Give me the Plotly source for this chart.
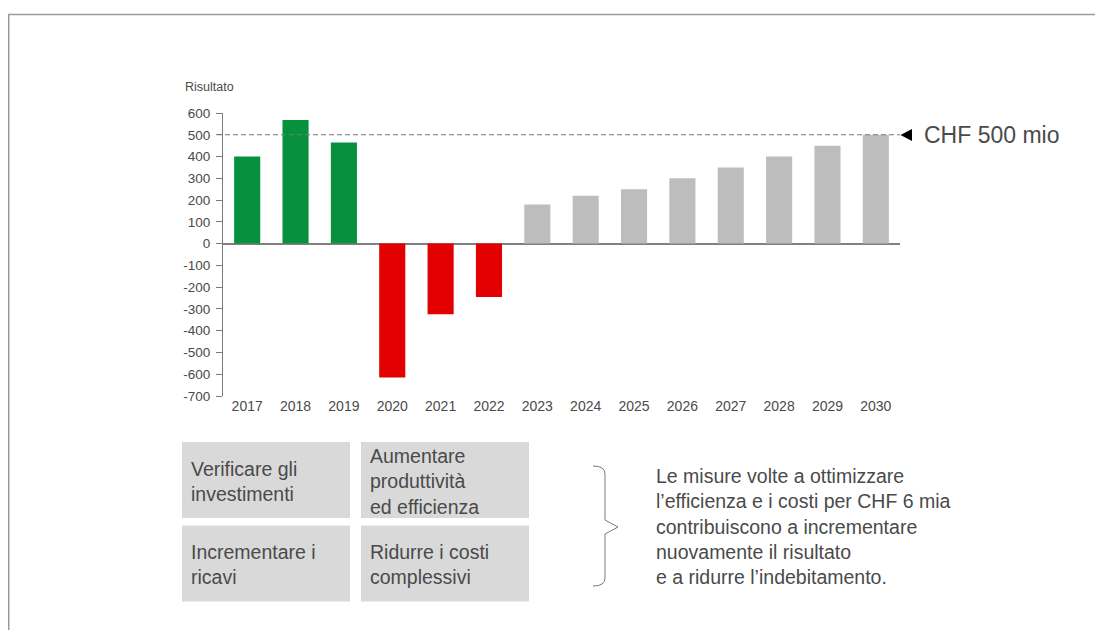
import plotly.graph_objects as go

# Risultato per anno (CHF mio)
years = ["2017", "2018", "2019", "2020", "2021", "2022", "2023",
         "2024", "2025", "2026", "2027", "2028", "2029", "2030"]
results = [400, 568, 465, -615, -325, -245, 180, 220, 250, 300, 350, 400, 450, 500]
period = ["actual"] * 6 + ["plan"] * 8

y_ticks = [600, 500, 400, 300, 200, 100, 0, -100, -200, -300, -400, -500, -600, -700]
y_ticktext = ["600", "500", "400", "300", "200", "100", "0",
              "-100", "-200", "-300", "-400", "-500", "-600", "-700"]

target = 500
target_label = "CHF 500 mio"
y_title = "Risultato"

box_texts = [
    "Verificare gli<br>investimenti",
    "Aumentare<br>produttività<br>ed efficienza",
    "Incrementare i<br>ricavi",
    "Ridurre i costi<br>complessivi",
]
summary_text = ("Le misure volte a ottimizzare<br>"
                "l’efficienza e i costi per CHF 6 mia<br>"
                "contribuiscono a incrementare<br>"
                "nuovamente il risultato<br>"
                "e a ridurre l’indebitamento.")

# the page body adds an 8px margin, so the figure is drawn 8px in
OFF = 8
W, H = 1103 - OFF, 630 - OFF
L, R, T, B = 215, 203, 105, 234
FONT = "Liberation Sans, Arial, sans-serif"
TXT = "#4a4a4a"


def px(x):
    # page pixel -> paper x
    return (x - OFF - L) / (W - L - R)


def py(y):
    # page pixel -> paper y
    return (H - B - (y - OFF)) / (H - T - B)


colors = []
for v, p in zip(results, period):
    if p == "plan":
        colors.append("#BDBDBD")
    elif v >= 0:
        colors.append("#07913F")
    else:
        colors.append("#E30000")

fig = go.Figure(go.Bar(
    x=years,
    y=results,
    marker=dict(color=colors, line=dict(width=0)),
    width=0.54,
    showlegend=False,
    hovertemplate="%{x}: %{y}<extra></extra>",
))

shapes = []
# target dashed line
shapes.append(dict(type="line", xref="paper", yref="y", x0=px(217), x1=1.0,
                   y0=target, y1=target,
                   line=dict(color="#7a7a7a", width=1.2, dash="5px,3px")))
# arrow head
ty = py(135)
shapes.append(dict(type="path", xref="paper", yref="paper",
                   path=f"M {px(900.5)},{ty} L {px(912)},{py(129)} L {px(912)},{py(141)} Z",
                   fillcolor="black", line=dict(width=0)))
# frame lines
shapes.append(dict(type="line", xref="paper", yref="paper",
                   x0=px(8), x1=px(1103), y0=py(14.5), y1=py(14.5),
                   line=dict(color="#9a9a9a", width=1.5)))
shapes.append(dict(type="line", xref="paper", yref="paper",
                   x0=px(8.7), x1=px(8.7), y0=py(14.5), y1=py(630),
                   line=dict(color="#9a9a9a", width=1.5)))

annotations = [
    dict(text=y_title, xref="paper", yref="paper", x=px(183), y=py(87),
         xanchor="left", yanchor="middle", showarrow=False,
         font=dict(family=FONT, size=12.5, color=TXT)),
    dict(text=target_label, xref="paper", yref="paper", x=px(922), y=py(135),
         xanchor="left", yanchor="middle", showarrow=False,
         font=dict(family=FONT, size=23, color=TXT)),
]

# boxes 2x2
col_x = [182, 361]
row_y = [442, 525.5]
bw, bh = 168, 76
for i, txt in enumerate(box_texts):
    x0 = col_x[i % 2]
    y0 = row_y[i // 2]
    shapes.append(dict(type="rect", xref="paper", yref="paper",
                       x0=px(x0), x1=px(x0 + bw), y0=py(y0), y1=py(y0 + bh),
                       fillcolor="#D9D9D9", line=dict(width=0), layer="below"))
    annotations.append(dict(text=txt, xref="paper", yref="paper",
                            x=px(x0 + 7), y=py(y0 + bh / 2 + 1),
                            xanchor="left", yanchor="middle", align="left",
                            showarrow=False,
                            font=dict(family=FONT, size=19.5, color=TXT)))

# curly brace
path = (f"M {px(593)},{py(466)} Q {px(605)},{py(466)} {px(605)},{py(474)} "
        f"L {px(605)},{py(520)} L {px(618)},{py(527)} L {px(605)},{py(534)} "
        f"L {px(605)},{py(578)} Q {px(605)},{py(586)} {px(593)},{py(586)}")
shapes.append(dict(type="path", xref="paper", yref="paper", path=path,
                   line=dict(color="#7a7a7a", width=1)))

annotations.append(dict(text=summary_text, xref="paper", yref="paper",
                        x=px(654), y=py(526), xanchor="left", yanchor="middle",
                        align="left", showarrow=False,
                        font=dict(family=FONT, size=19.5, color=TXT)))

fig.update_layout(
    width=W, height=H,
    margin=dict(l=L, r=R, t=T, b=B),
    paper_bgcolor="white",
    plot_bgcolor="white",
    bargap=0.46,
    shapes=shapes,
    annotations=annotations,
    xaxis=dict(
        type="category",
        range=[-0.5, len(years) - 0.5],
        showline=False, showgrid=False, zeroline=False, ticks="",
        tickfont=dict(family=FONT, size=14, color=TXT),
        fixedrange=True,
    ),
    yaxis=dict(
        range=[-700, 600],
        tickvals=y_ticks,
        ticktext=y_ticktext,
        showgrid=False,
        showline=True, linecolor="#7a7a7a", linewidth=1,
        ticks="outside", ticklen=6, tickcolor="#7a7a7a",
        ticklabelstandoff=3,
        zeroline=True, zerolinecolor="#808080", zerolinewidth=1.5,
        tickfont=dict(family=FONT, size=13.5, color=TXT),
        fixedrange=True,
    ),
)

fig.write_html("out.html")
